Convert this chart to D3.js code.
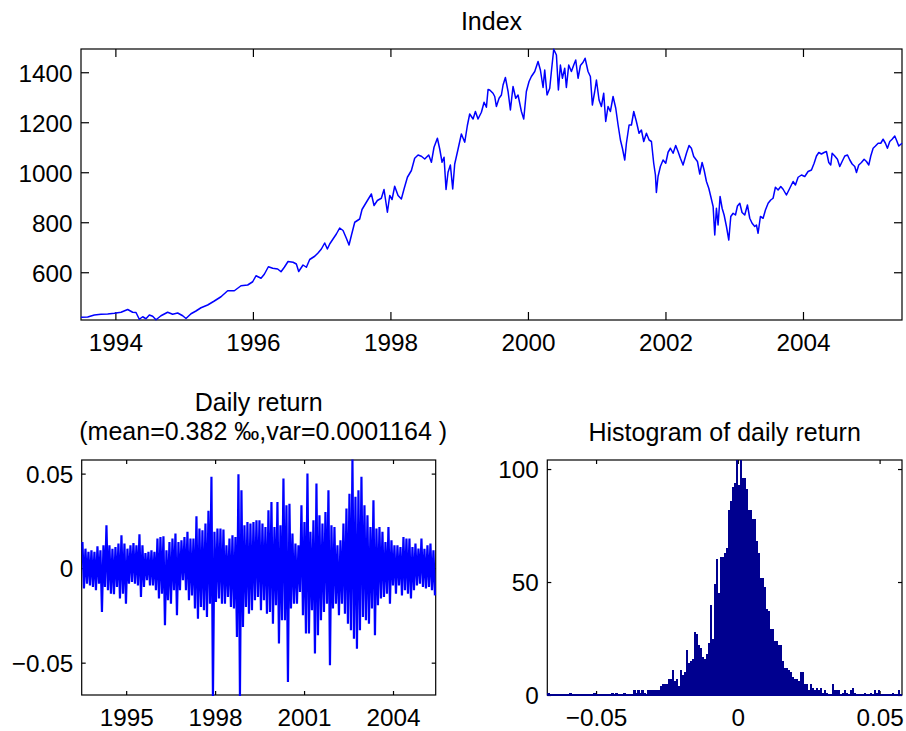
<!DOCTYPE html>
<html>
<head>
<meta charset="utf-8">
<script src="https://cdn.jsdelivr.net/npm/d3@7"></script>
<style>
  body { margin: 0; background: #fff; }
  svg { display: block; }
  text { font-family: "Liberation Sans", Arial, Helvetica, sans-serif; fill: #000; }
  .tick text { font-size: 24.3px; }
  .title { font-size: 25px; }
</style>
</head>
<body>
<svg id="fig" width="906" height="731"></svg>
<script>
// ---- data ---------------------------------------------------------------

// Index level, [decimal year, value]
const indexSeries = [
  [1993.500,420],[1993.597,421],[1993.694,429],[1993.791,432],[1993.888,433],[1993.985,436],
  [1994.082,440],[1994.179,451],[1994.251,440],[1994.300,439],[1994.348,412],[1994.397,422],
  [1994.445,414],[1994.494,429],[1994.542,424],[1994.591,410],[1994.663,426],[1994.760,440],
  [1994.833,432],[1994.906,437],[1994.979,426],[1995.027,415],[1995.100,434],[1995.172,445],
  [1995.245,458],[1995.342,469],[1995.439,485],[1995.536,502],[1995.633,526],[1995.730,526],
  [1995.827,546],[1995.924,549],[1995.997,562],[1996.045,586],[1996.118,576],[1996.166,592],
  [1996.225,622],[1996.288,616],[1996.360,613],[1996.409,602],[1996.457,620],
  [1996.511,643],[1996.584,640],[1996.632,633],[1996.666,603],[1996.729,629],[1996.778,620],
  [1996.826,651],[1996.899,664],[1996.947,677],[1996.996,693],[1997.044,717],[1997.083,693],
  [1997.117,713],[1997.165,733],[1997.214,753],[1997.262,777],[1997.311,767],[1997.359,736],
  [1997.398,709],[1997.432,747],[1997.481,800],[1997.553,813],[1997.587,851],[1997.650,880],
  [1997.723,913],[1997.762,867],[1997.810,887],[1997.868,896],[1997.907,931],[1997.956,840],
  [1997.990,907],[1998.024,891],[1998.062,944],[1998.111,907],[1998.159,893],[1998.198,933],
  [1998.247,980],[1998.305,1007],[1998.353,1056],[1998.402,1069],[1998.450,1064],[1998.499,1053],
  [1998.557,1069],[1998.596,1040],[1998.634,1100],[1998.683,1136],[1998.717,1093],[1998.751,1040],
  [1998.780,1060],[1998.809,931],[1998.838,1000],[1998.872,1029],[1998.906,933],[1998.935,1033],
  [1998.984,1093],[1999.032,1153],[1999.081,1120],[1999.119,1187],[1999.153,1233],[1999.202,1213],
  [1999.236,1243],[1999.274,1213],[1999.323,1240],[1999.362,1280],[1999.396,1260],[1999.420,1331],
  [1999.444,1329],[1999.492,1316],[1999.517,1303],[1999.541,1263],[1999.580,1296],[1999.614,1309],
  [1999.638,1349],[1999.672,1379],[1999.711,1323],[1999.745,1249],[1999.783,1343],[1999.822,1296],
  [1999.856,1309],[1999.905,1243],[1999.939,1213],[1999.977,1323],[2000.016,1363],[2000.050,1383],
  [2000.099,1403],[2000.147,1443],[2000.181,1409],[2000.220,1339],[2000.244,1409],[2000.278,1309],
  [2000.317,1336],[2000.341,1403],[2000.375,1492],[2000.414,1469],[2000.443,1329],[2000.472,1429],
  [2000.501,1376],[2000.535,1416],[2000.559,1339],[2000.593,1429],[2000.632,1403],[2000.666,1429],
  [2000.695,1449],[2000.729,1376],[2000.763,1427],[2000.802,1440],[2000.831,1456],[2000.874,1403],
  [2000.908,1383],[2000.937,1269],[2000.971,1323],[2000.996,1369],[2001.034,1289],[2001.068,1263],
  [2001.102,1316],[2001.131,1203],[2001.165,1263],[2001.199,1243],[2001.238,1303],[2001.277,1256],
  [2001.311,1189],[2001.345,1129],[2001.374,1096],[2001.408,1049],[2001.432,1116],[2001.471,1189],
  [2001.505,1189],[2001.539,1243],[2001.577,1203],[2001.616,1156],[2001.650,1169],[2001.684,1123],
  [2001.723,1156],[2001.762,1129],[2001.796,1123],[2001.829,1036],[2001.854,989],[2001.868,919],
  [2001.892,983],[2001.926,1023],[2001.965,1049],[2002.004,1036],[2002.038,1080],[2002.072,1096],
  [2002.111,1076],[2002.149,1107],[2002.183,1083],[2002.217,1056],[2002.256,1029],[2002.305,1076],
  [2002.343,1107],[2002.377,1096],[2002.411,1063],
  [2002.465,1043],[2002.499,993],[2002.533,1039],[2002.562,1009],[2002.596,963],[2002.630,936],
  [2002.659,903],[2002.693,863],[2002.717,749],[2002.741,856],[2002.765,789],[2002.794,903],
  [2002.824,856],[2002.853,829],[2002.887,783],[2002.921,729],[2002.950,823],[2002.984,836],
  [2003.018,829],[2003.047,865],[2003.081,876],[2003.114,839],[2003.153,829],[2003.192,869],
  [2003.226,816],[2003.260,796],[2003.299,783],[2003.323,789],[2003.347,756],[2003.381,823],
  [2003.420,816],[2003.454,849],[2003.493,876],[2003.531,889],[2003.565,896],[2003.599,940],
  [2003.638,929],[2003.677,943],[2003.711,932],[2003.759,909],[2003.808,936],[2003.856,963],
  [2003.890,949],[2003.929,980],[2003.978,989],[2004.026,983],[2004.074,1003],[2004.123,1009],
  [2004.162,1036],[2004.196,1065],[2004.230,1079],[2004.268,1073],[2004.307,1079],[2004.341,1083],
  [2004.375,1039],[2004.404,1029],[2004.424,1076],[2004.462,1065],[2004.501,1052],[2004.535,1023],
  [2004.569,1043],[2004.608,1065],[2004.647,1069],[2004.681,1049],[2004.715,1033],[2004.753,1023],
  [2004.778,999],[2004.811,1029],[2004.850,1039],[2004.889,1052],[2004.923,1043],[2004.957,1029],
  [2004.986,1065],[2005.020,1096],[2005.054,1105],[2005.093,1116],[2005.131,1116],[2005.165,1132],
  [2005.199,1116],[2005.228,1096],[2005.262,1123],[2005.296,1132],[2005.335,1145],[2005.359,1129],
  [2005.393,1105],[2005.440,1116]
];
const dateSpan = [1993.5, 2005.44];
const indexRange = [409, 1493];
const indexYearTicks = [1994, 1996, 1998, 2000, 2002, 2004];
const indexValueTicks = [600, 800, 1000, 1200, 1400];

// Daily return: highest and lowest return in each of 118 equal time slices
const retHigh = [
  0.0138,0.0103,0.0086,0.0095,0.0086,0.0115,0.0095,0.0121,0.0227,0.0121,
  0.0103,0.0112,0.0130,0.0174,0.0130,0.0103,0.0121,0.0133,0.0121,0.0179,
  0.0121,0.0080,0.0086,0.0095,0.0086,0.0156,0.0165,0.0168,0.0095,0.0138,
  0.0156,0.0183,0.0138,0.0147,0.0165,0.0192,0.0156,0.0156,0.0274,0.0209,
  0.0200,0.0236,0.0303,0.0483,0.0192,0.0209,0.0209,0.0204,0.0121,0.0156,
  0.0174,0.0165,0.0497,0.0412,0.0227,0.0244,0.0236,0.0244,0.0253,0.0253,
  0.0236,0.0218,0.0306,0.0350,0.0218,0.0350,0.0227,0.0474,0.0333,0.0341,
  0.0183,0.0130,0.0121,0.0333,0.0244,0.0500,0.0192,0.0253,0.0447,0.0280,
  0.0236,0.0297,0.0412,0.0227,0.0218,0.0121,0.0147,0.0236,0.0315,0.0394,
  0.0574,0.0377,0.0412,0.0483,0.0333,0.0280,0.0218,0.0359,0.0209,0.0218,
  0.0192,0.0138,0.0218,0.0147,0.0121,0.0121,0.0112,0.0165,0.0156,0.0156,
  0.0112,0.0130,0.0103,0.0156,0.0103,0.0121,0.0130,0.0095
];
const retLow = [
  -0.0108,-0.0082,-0.0091,-0.0100,-0.0117,-0.0082,-0.0232,-0.0100,-0.0117,-0.0135,
  -0.0138,-0.0100,-0.0161,-0.0135,-0.0188,-0.0082,-0.0073,-0.0082,-0.0091,-0.0152,
  -0.0100,-0.0064,-0.0091,-0.0091,-0.0117,-0.0161,-0.0135,-0.0302,-0.0170,-0.0188,
  -0.0117,-0.0249,-0.0117,-0.0064,-0.0117,-0.0170,-0.0144,-0.0214,-0.0267,-0.0205,
  -0.0223,-0.0258,-0.0188,-0.0690,-0.0179,-0.0161,-0.0188,-0.0188,-0.0152,-0.0205,
  -0.0214,-0.0364,-0.0680,-0.0311,-0.0205,-0.0241,-0.0223,-0.0170,-0.0152,-0.0223,
  -0.0170,-0.0241,-0.0232,-0.0294,-0.0196,-0.0399,-0.0276,-0.0276,-0.0602,-0.0214,
  -0.0188,-0.0188,-0.0126,-0.0249,-0.0346,-0.0346,-0.0223,-0.0452,-0.0355,-0.0276,
  -0.0232,-0.0188,-0.0514,-0.0214,-0.0188,-0.0249,-0.0188,-0.0241,-0.0294,-0.0329,
  -0.0373,-0.0426,-0.0329,-0.0258,-0.0276,-0.0294,-0.0214,-0.0355,-0.0196,-0.0161,
  -0.0152,-0.0135,-0.0188,-0.0091,-0.0135,-0.0091,-0.0144,-0.0117,-0.0135,-0.0161,
  -0.0117,-0.0091,-0.0082,-0.0100,-0.0108,-0.0100,-0.0117,-0.0144
];
const retRange = [-0.0671, 0.0572];
const retYearTicks = [1995, 1998, 2001, 2004];
const retValueTicks = [-0.05, 0, 0.05];
const retMean = "0.382";
const retVar = "0.0001164";

// Histogram of daily return: counts in 177 equal bins over histRange
const histCounts = [
  1,0,0,0,0,0,0,0,0,0, 0,1,0,0,0,0,0,0,0,0, 0,0,0,1,0,0,0,0,0,0,
  0,0,1,0,1,0,0,0,1,0, 0,0,0,2,1,2,1,2,1,0, 2,2,2,2,2,2,4,5,5,5,
  7,7,11,6,7,4,11,9,10,20, 14,15,16,28,27,22,21,17,16,18, 23,40,25,49,60,45,61,61,63,65,
  82,86,92,94,104,93,104,96,96,91, 82,82,78,78,68,63,52,52,48,38, 37,29,29,24,24,22,22,15,12,12,
  11,10,8,7,7,6,10,10,5,5, 2,5,3,2,3,2,3,1,2,1, 0,0,5,2,2,2,0,1,2,1,
  0,2,3,1,0,0,0,0,1,0, 0,1,0,2,1,2,0,0,0,0, 0,0,1,0,0,2,0
];
const histRange = [-0.0672, 0.0579];
const histCountMax = 104;
const histValueTicks = [-0.05, 0, 0.05];
const histCountTicks = [0, 50, 100];

// ---- layout -------------------------------------------------------------
const svg = d3.select("#fig");
const boxIndex = { x0: 81, x1: 902, y0: 49, y1: 320, tick: 8 };
const boxRet   = { x0: 81.7, x1: 435.7, y0: 460, y1: 695, tick: 4 };
const boxHist  = { x0: 547.3, x1: 902, y0: 460, y1: 695, tick: 4 };
const AXIS_W = 1.2;
const BLUE = "#0000ff";
const NAVY = "#00008f";

const fmtSigned = v => v === 0 ? "0" : d3.format(".2f")(v);

// Boxed axes with inward ticks on all four sides, labels bottom and left
function drawAxes(box, x, y, xTicks, yTicks, xFmt, yFmt) {
  const g = svg.append("g");
  g.append("rect")
    .attr("x", box.x0).attr("y", box.y0)
    .attr("width", box.x1 - box.x0).attr("height", box.y1 - box.y0)
    .attr("fill", "none").attr("stroke", "#000").attr("stroke-width", AXIS_W);
  const side = (gen, tx, ty, labelled) => {
    const a = g.append("g").attr("transform", `translate(${tx},${ty})`)
      .call(gen.tickSizeInner(-box.tick).tickSizeOuter(0));
    a.select(".domain").remove();
    a.selectAll(".tick line").attr("stroke", "#000").attr("stroke-width", AXIS_W);
    if (!labelled) a.selectAll(".tick text").remove();
    return a;
  };
  side(d3.axisBottom(x).tickValues(xTicks).tickFormat(xFmt).tickPadding(14), 0, box.y1, true);
  side(d3.axisTop(x).tickValues(xTicks), 0, box.y0, false);
  side(d3.axisLeft(y).tickValues(yTicks).tickFormat(yFmt).tickPadding(8.5), box.x0, 0, true)
    .selectAll(".tick text").attr("dy", "0.36em");
  side(d3.axisRight(y).tickValues(yTicks), box.x1, 0, false);
}

function clipFor(id, box) {
  svg.append("clipPath").attr("id", id).append("rect")
    .attr("x", box.x0 - 1).attr("y", box.y0 - 1)
    .attr("width", box.x1 - box.x0 + 2).attr("height", box.y1 - box.y0 + 2);
  return `url(#${id})`;
}

// ---- Index --------------------------------------------------------------
{
  const x = d3.scaleLinear().domain(dateSpan).range([boxIndex.x0, boxIndex.x1]);
  const y = d3.scaleLinear().domain(indexRange).range([boxIndex.y1, boxIndex.y0]);
  drawAxes(boxIndex, x, y, indexYearTicks, indexValueTicks, d3.format("d"), d3.format("d"));
  svg.append("path")
    .datum(indexSeries)
    .attr("clip-path", clipFor("clipIndex", boxIndex))
    .attr("fill", "none").attr("stroke", BLUE).attr("stroke-width", 1.5)
    .attr("stroke-linejoin", "round")
    .attr("d", d3.line().x(d => x(d[0])).y(d => y(d[1])));
  svg.append("text").attr("class", "title")
    .attr("x", (boxIndex.x0 + boxIndex.x1) / 2).attr("y", 29.5)
    .attr("text-anchor", "middle").text("Index");
}

// ---- Daily return ---------------------------------------------------------
{
  const x = d3.scaleLinear().domain(dateSpan).range([boxRet.x0, boxRet.x1]);
  const y = d3.scaleLinear().domain(retRange).range([boxRet.y1, boxRet.y0]);
  drawAxes(boxRet, x, y, retYearTicks, retValueTicks, d3.format("d"), fmtSigned);
  // each time slice is traced from its high to its low, giving the dense band
  const step = (dateSpan[1] - dateSpan[0]) / retHigh.length;
  const pts = [];
  retHigh.forEach((hi, i) => {
    const t = dateSpan[0] + i * step;
    pts.push([t + 0.25 * step, hi], [t + 0.75 * step, retLow[i]]);
  });
  svg.append("path")
    .datum(pts)
    .attr("clip-path", clipFor("clipRet", boxRet))
    .attr("fill", "none").attr("stroke", BLUE).attr("stroke-width", 2.2)
    .attr("stroke-linejoin", "miter").attr("stroke-miterlimit", 1.5)
    .attr("d", d3.line().x(d => x(d[0])).y(d => y(d[1])));
  const cx = (boxRet.x0 + boxRet.x1) / 2;
  svg.append("text").attr("class", "title")
    .attr("x", cx).attr("y", 410.5).attr("text-anchor", "middle")
    .text("Daily return");
  svg.append("text").attr("class", "title")
    .attr("x", cx + 4.5).attr("y", 440).attr("text-anchor", "middle")
    .text(`(mean=${retMean} \u2030,var=${retVar} )`);
}

// ---- Histogram ----------------------------------------------------------
{
  const x = d3.scaleLinear().domain(histRange).range([boxHist.x0, boxHist.x1]);
  const y = d3.scaleLinear().domain([0, histCountMax]).range([boxHist.y1, boxHist.y0]);
  drawAxes(boxHist, x, y, histValueTicks, histCountTicks, fmtSigned, d3.format("d"));
  const w = (histRange[1] - histRange[0]) / histCounts.length;
  const g = svg.append("g").attr("clip-path", clipFor("clipHist", boxHist))
    .attr("shape-rendering", "crispEdges");
  g.selectAll("rect")
    .data(histCounts)
    .join("rect")
    .attr("x", (d, i) => x(histRange[0] + i * w))
    .attr("width", (d, i) => x(histRange[0] + (i + 1) * w) - x(histRange[0] + i * w) + 0.5)
    .attr("y", d => y(d))
    .attr("height", d => y(0) - y(d))
    .attr("fill", NAVY);
  // zero-height bars still leave their outline along the baseline
  g.append("line")
    .attr("x1", x(histRange[0])).attr("x2", x(histRange[1]))
    .attr("y1", y(0) - 0.5).attr("y2", y(0) - 0.5)
    .attr("stroke", NAVY).attr("stroke-width", 2);
  svg.append("text").attr("class", "title")
    .attr("x", (boxHist.x0 + boxHist.x1) / 2).attr("y", 440.5)
    .attr("text-anchor", "middle").text("Histogram of daily return");
}
</script>
</body>
</html>
